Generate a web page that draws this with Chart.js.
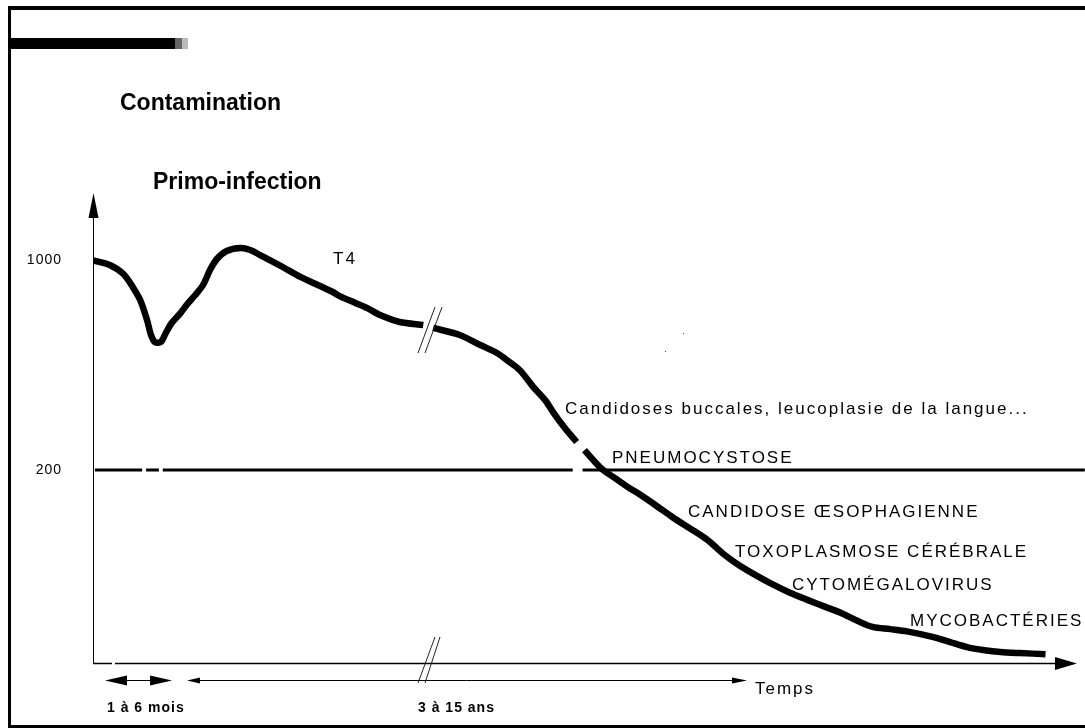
<!DOCTYPE html>
<html>
<head>
<meta charset="utf-8">
<script src="https://cdn.jsdelivr.net/npm/chart.js@4"></script>
<style>
  html, body { margin: 0; padding: 0; background: #fff; }
  canvas { display: block; }
</style>
</head>
<body>
<canvas id="myChart" width="1085" height="728"></canvas>
<script>
// temps en unités arbitraires (0 = contamination), taux de T4 lus sur le schéma
// null = coupure du tracé
var temps = [0, 1.7, 3.1, 4.1, 4.8, 5.5, 5.9, 6.3, 6.9, 7.4, 8.0, 8.9, 9.6, 10.4, 11.2, 11.9, 12.6, 13.6, 15.0, 16.0, 17.0, 19.3, 21.1, 23.1, 24.4, 25.1, 26.7, 27.9, 29.2, 31.2, 33.6,
  34.1,
  34.6, 37.3, 39.4, 41.1, 42.1, 43.4, 44.8, 46.0, 46.8, 48.0, 49.2,
  49.6,
  50.0, 51.0, 51.9, 53.1, 54.6, 55.6, 57.2, 59.0, 60.7, 62.5, 64.3, 65.8, 67.5, 69.2, 70.9, 72.6, 74.5, 76.0, 77.7, 79.3, 81.1, 82.8, 85.5, 87.2, 88.9, 90.7, 92.3, 94.3, 96.9];
var t4 = [1000, 965, 900, 809, 737, 632, 564, 534, 534, 572, 618, 667, 715, 766, 828, 928, 1010, 1074, 1099, 1082, 1041, 950, 880, 821, 784, 760, 721, 693, 657, 623, 609,
  null,
  595, 564, 522, 491, 465, 431, 378, 342, 312, 276, 248,
  null,
  233, 214, 200, 188, 174, 166, 153, 139, 128, 117, 104, 96, 89, 83, 78, 74, 70, 67, 63, 60, 59, 58, 55.5, 53.4, 51.4, 50.2, 49.5, 49.1, 48.7];

// seuil de 200 T4 (avec ses coupures)
var seuilTemps = [0.2, 5.0, 5.2, 5.4, 6.7, 6.9, 7.1, 48.8, 49.3, 49.8, 100.9];
var seuilT4 = [200, 200, null, 200, 200, null, 200, 200, null, 200, 200];

var yTicks = [1000, 200];

var titres = ['Contamination', 'Primo-infection'];
var infections = ['Candidoses buccales, leucoplasie de la langue...', 'PNEUMOCYSTOSE', 'CANDIDOSE ŒSOPHAGIENNE', 'TOXOPLASMOSE CÉRÉBRALE', 'CYTOMÉGALOVIRUS', 'MYCOBACTÉRIES'];
var durees = ['1 à 6 mois', '3 à 15 ans'];

function points(xs, ys) {
    return xs.map(function (v, i) { return { x: v, y: ys[i] }; });
}

function fleche(ctx, x1, y1, x2, y2, x3, y3) {
    ctx.beginPath();
    ctx.moveTo(x1, y1);
    ctx.lineTo(x2, y2);
    ctx.lineTo(x3, y3);
    ctx.closePath();
    ctx.fill();
}

function ligne(ctx, x1, y1, x2, y2) {
    ctx.beginPath();
    ctx.moveTo(x1, y1);
    ctx.lineTo(x2, y2);
    ctx.stroke();
}

var FONT = '"Liberation Sans", Arial, sans-serif';

var schema = {
    id: 'schema',
    beforeDatasetsDraw: function (chart) {
        var ctx = chart.ctx;
        var a = chart.chartArea;
        var sy = chart.scales.y;
        ctx.save();
        ctx.fillStyle = '#000';
        ctx.strokeStyle = '#000';

        // cadre
        ctx.fillRect(8, 6, 1077, 4);
        ctx.fillRect(8, 6, 3, 722);
        ctx.fillRect(8, 725, 1077, 3);

        // bandeau
        ctx.fillRect(11, 38, 164, 11);
        ctx.fillStyle = '#666';
        ctx.fillRect(175, 38, 7, 11);
        ctx.fillStyle = '#bbb';
        ctx.fillRect(182, 38, 6, 11);
        ctx.fillStyle = '#000';

        // axe vertical
        ctx.lineWidth = 1;
        ligne(ctx, a.left + 0.5, a.top + 20, a.left + 0.5, a.bottom);
        fleche(ctx, a.left + 0.5, a.top, a.left - 4.5, a.top + 25, a.left + 5.5, a.top + 25);

        // axe horizontal
        ctx.lineWidth = 1.5;
        ligne(ctx, a.left, a.bottom + 0.5, 112, a.bottom + 0.5);
        ligne(ctx, 115, a.bottom + 0.5, a.right - 18, a.bottom + 0.5);
        fleche(ctx, a.right + 1, a.bottom + 0.5, a.right - 21, a.bottom - 6, a.right - 21, a.bottom + 7);

        // durées
        var yd = 680.5;
        ctx.lineWidth = 1;
        fleche(ctx, 105, yd, 127, yd - 5, 127, yd + 5);
        ligne(ctx, 127, yd, 150, yd);
        fleche(ctx, 172, yd, 150, yd - 5, 150, yd + 5);
        fleche(ctx, 187, yd, 200, yd - 3, 200, yd + 3);
        ligne(ctx, 200, yd, 733, yd);
        fleche(ctx, 747, yd, 732, yd - 3, 732, yd + 3);

        // graduations
        ctx.font = '14px ' + FONT;
        ctx.letterSpacing = '1px';
        ctx.textAlign = 'right';
        ctx.textBaseline = 'middle';
        yTicks.forEach(function (v) {
            ctx.fillText(String(v), 62, sy.getPixelForValue(v));
        });

        // textes
        ctx.textAlign = 'left';
        ctx.textBaseline = 'alphabetic';
        ctx.letterSpacing = '0px';
        ctx.font = 'bold 23px ' + FONT;
        ctx.fillText(titres[0], 120, 110);
        ctx.fillText(titres[1], 153, 189);

        ctx.font = '17px ' + FONT;
        ctx.letterSpacing = '2px';
        ctx.fillText('T4', 333, 264);
        var pos = [[565, 414], [612, 463], [688, 517], [735, 557], [792, 590], [910, 626]];
        infections.forEach(function (t, i) {
            ctx.fillText(t, pos[i][0], pos[i][1]);
        });
        ctx.fillText('Temps', 755, 694);

        ctx.font = 'bold 14px ' + FONT;
        ctx.letterSpacing = '1px';
        ctx.fillText(durees[0], 107, 712);
        ctx.fillText(durees[1], 418, 712);
        ctx.letterSpacing = '0px';

        // points parasites
        ctx.fillStyle = '#444';
        ctx.fillRect(683, 333, 1, 1);
        ctx.fillRect(665, 351, 1, 1);
        ctx.restore();
    },
    afterDatasetsDraw: function (chart) {
        var ctx = chart.ctx;
        ctx.save();
        ctx.strokeStyle = '#222';
        ctx.lineWidth = 1;
        // coupures de l'échelle de temps
        ligne(ctx, 418, 353, 435, 307);
        ligne(ctx, 425, 353, 442, 307);
        ligne(ctx, 418, 683, 435, 637);
        ligne(ctx, 425, 683, 440, 637);
        ctx.restore();
    }
};

var canvas = document.getElementById('myChart');
var ctx = canvas.getContext('2d');

var myChart = new Chart(ctx, {
    type: 'line',
    data: {
        datasets: [{
            label: 'T4',
            data: points(temps, t4),
            borderColor: '#000',
            borderWidth: 6.5,
            borderCapStyle: 'butt',
            borderJoinStyle: 'round',
            tension: 0.3,
            pointRadius: 0,
            fill: false
        }, {
            label: 'Seuil 200',
            data: points(seuilTemps, seuilT4),
            borderColor: '#000',
            borderWidth: 3,
            borderCapStyle: 'butt',
            tension: 0,
            pointRadius: 0,
            fill: false,
            clip: false
        }]
    },
    options: {
        responsive: false,
        animation: false,
        devicePixelRatio: 1,
        layout: {
            padding: { left: 93, right: 9, top: 193, bottom: 65 }
        },
        scales: {
            x: {
                type: 'linear',
                min: 0,
                max: 100,
                display: false
            },
            y: {
                type: 'logarithmic',
                min: 45.5,
                max: 1676,
                bounds: 'data',
                display: false
            }
        },
        plugins: {
            legend: { display: false },
            tooltip: { enabled: false }
        }
    },
    plugins: [schema]
});
</script>
</body>
</html>
